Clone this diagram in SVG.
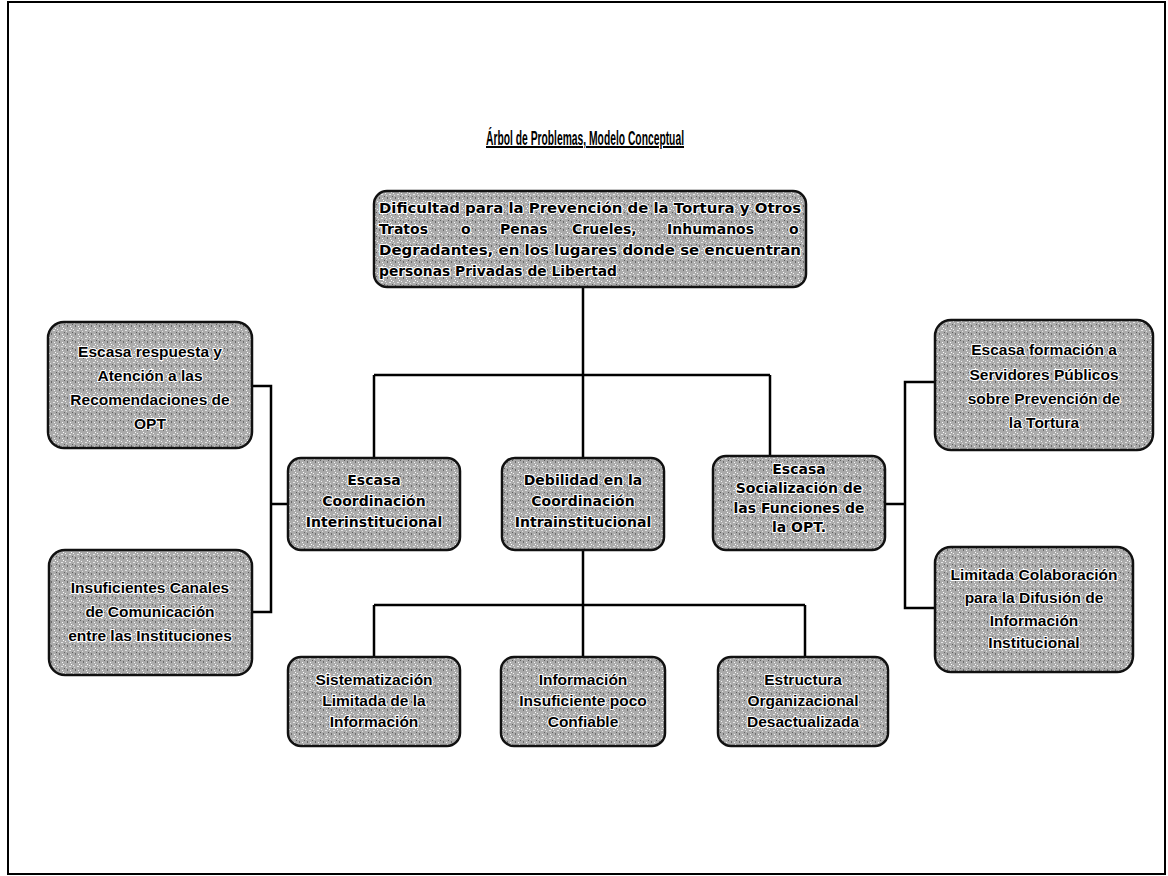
<svg xmlns="http://www.w3.org/2000/svg" width="1168" height="876" viewBox="0 0 1168 876">
<defs>
<pattern id="tex" width="8" height="8" patternUnits="userSpaceOnUse">
<rect width="8" height="8" fill="#ababab"/>
<rect x="1" y="1" width="1" height="1" fill="#f2f2f2"/>
<rect x="5" y="2" width="2" height="1" fill="#e6e6e6"/>
<rect x="3" y="5" width="1" height="2" fill="#6a6a6a"/>
<rect x="6" y="6" width="1" height="1" fill="#f5f5f5"/>
<rect x="0" y="4" width="1" height="1" fill="#5e5e5e"/>
<rect x="2" y="3" width="1" height="1" fill="#dddddd"/>
<rect x="7" y="0" width="1" height="1" fill="#ffffff"/>
</pattern>
<style>
.box{fill:url(#tex);stroke:#111;stroke-width:2.5}
.t{font-family:"Liberation Sans",Arial,sans-serif;font-weight:bold;font-size:15.5px;fill:#000;text-anchor:middle;stroke:#fff;stroke-width:2.2;paint-order:stroke;stroke-linejoin:round}
.h{font-family:"DejaVu Sans",Verdana,sans-serif;font-size:14px}
.tl{text-anchor:start}
.c{fill:none;stroke:#000;stroke-width:2.5}
.title{font-family:"Liberation Sans",Arial,sans-serif;font-weight:bold;font-size:20px;fill:#000;text-anchor:middle;text-decoration:underline}
</style>
</defs>
<rect x="8" y="2" width="1157" height="872" fill="#fff" stroke="#000" stroke-width="2"/>
<text class="title" x="585" y="145" textLength="198" lengthAdjust="spacingAndGlyphs">Árbol de Problemas, Modelo Conceptual</text>
<g id="connectors">
<path class="c" d="M583,287 V375 M374,375 H770 M374,375 V458 M583,375 V458 M770,375 V456"/>
<path class="c" d="M583,550 V605 M374,605 H805 M374,605 V657 M583,605 V657 M805,605 V657"/>
<path class="c" d="M252,386 H271 V612 H252 M271,504 H288"/>
<path class="c" d="M935,382 H905 V608 H935 M885,504 H905"/>
</g>
<g id="n-top">
<rect class="box" x="374" y="191" width="432" height="96" rx="13"/>
<text class="t h tl" x="379" y="213" textLength="422" lengthAdjust="spacingAndGlyphs">Dificultad para la Prevención de la Tortura y Otros</text>
<text class="t h tl" y="234"><tspan x="379">Tratos</tspan><tspan x="461">o</tspan><tspan x="500">Penas</tspan><tspan x="572">Crueles,</tspan><tspan x="667">Inhumanos</tspan><tspan x="789">o</tspan></text>
<text class="t h tl" x="379" y="255" textLength="422" lengthAdjust="spacingAndGlyphs">Degradantes, en los lugares donde se encuentran</text>
<text class="t h tl" x="379" y="276" textLength="238" lengthAdjust="spacingAndGlyphs">personas Privadas de Libertad</text>
</g>
<g id="n-left1">
<rect class="box" x="48" y="322" width="204" height="126" rx="16"/>
<text class="t" x="150" y="357">Escasa respuesta y</text>
<text class="t" x="150" y="381">Atención a las</text>
<text class="t" x="150" y="405">Recomendaciones de</text>
<text class="t" x="150" y="429">OPT</text>
</g>
<g id="n-left2">
<rect class="box" x="49" y="550" width="203" height="125" rx="16"/>
<text class="t" x="150" y="593">Insuficientes Canales</text>
<text class="t" x="150" y="617">de Comunicación</text>
<text class="t" x="150" y="641">entre las Instituciones</text>
</g>
<g id="n-right1">
<rect class="box" x="935" y="320" width="218" height="130" rx="16"/>
<text class="t" x="1044" y="355">Escasa formación a</text>
<text class="t" x="1044" y="380">Servidores Públicos</text>
<text class="t" x="1044" y="404">sobre Prevención de</text>
<text class="t" x="1044" y="428">la Tortura</text>
</g>
<g id="n-right2">
<rect class="box" x="935" y="547" width="198" height="125" rx="16"/>
<text class="t" x="1034" y="580">Limitada Colaboración</text>
<text class="t" x="1034" y="603">para  la Difusión de</text>
<text class="t" x="1034" y="626">Información</text>
<text class="t" x="1034" y="648">Institucional</text>
</g>
<g id="n-mid1">
<rect class="box" x="288" y="458" width="172" height="92" rx="13"/>
<text class="t h" x="374" y="485">Escasa</text>
<text class="t h" x="374" y="506">Coordinación</text>
<text class="t h" x="374" y="527">Interinstitucional</text>
</g>
<g id="n-mid2">
<rect class="box" x="502" y="458" width="162" height="92" rx="13"/>
<text class="t h" x="583" y="485">Debilidad en la</text>
<text class="t h" x="583" y="506">Coordinación</text>
<text class="t h" x="583" y="527">Intrainstitucional</text>
</g>
<g id="n-mid3">
<rect class="box" x="713" y="456" width="172" height="94" rx="13"/>
<text class="t h" x="799" y="474">Escasa</text>
<text class="t h" x="799" y="493">Socialización de</text>
<text class="t h" x="799" y="513">las Funciones de</text>
<text class="t h" x="799" y="532">la OPT.</text>
</g>
<g id="n-bot1">
<rect class="box" x="288" y="657" width="172" height="89" rx="13"/>
<text class="t" x="374" y="685">Sistematización</text>
<text class="t" x="374" y="706">Limitada de la</text>
<text class="t" x="374" y="727">Información</text>
</g>
<g id="n-bot2">
<rect class="box" x="501" y="657" width="164" height="89" rx="13"/>
<text class="t" x="583" y="685">Información</text>
<text class="t" x="583" y="706">Insuficiente poco</text>
<text class="t" x="583" y="727">Confiable</text>
</g>
<g id="n-bot3">
<rect class="box" x="718" y="657" width="170" height="89" rx="13"/>
<text class="t" x="803" y="685">Estructura</text>
<text class="t" x="803" y="706">Organizacional</text>
<text class="t" x="803" y="727">Desactualizada</text>
</g>
</svg>
